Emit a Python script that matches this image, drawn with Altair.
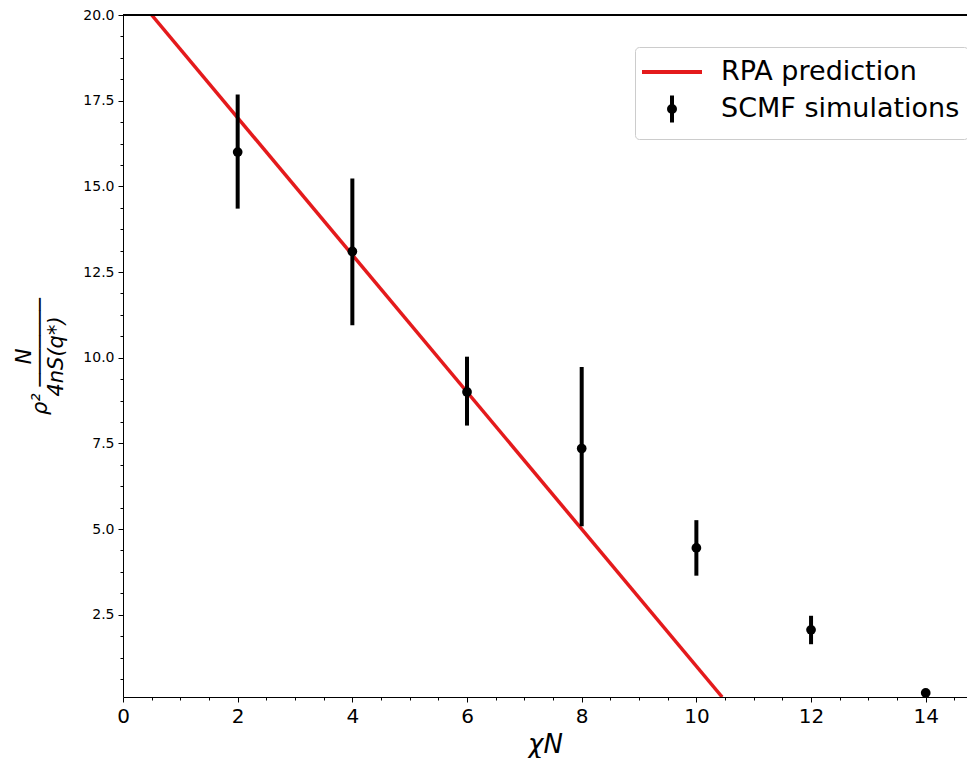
import altair as alt
import pandas as pd

# ---- data ----
chi_n = [2, 4, 6, 8, 10, 12, 14]
scmf_mean = [16.0, 13.1, 9.0, 7.35, 4.45, 2.06, 0.22]
scmf_low = [14.35, 10.95, 8.02, 5.08, 3.64, 1.64, 0.22]
scmf_high = [17.68, 15.23, 10.03, 9.73, 5.26, 2.47, 0.22]

rpa_chi_n = [0.5, 10.45]
rpa_value = [20.0, 0.1]

series_names = ["RPA prediction", "SCMF simulations"]
series_colors = ["#e41a1c", "#000000"]

x_ticks = [0, 2, 4, 6, 8, 10, 12, 14]
y_ticks = [2.5, 5.0, 7.5, 10.0, 12.5, 15.0, 17.5, 20.0]
x_minor = [k * 0.5 for k in range(1, 30) if k % 4]
y_minor = [k * 0.625 for k in range(1, 32) if k % 4]

pts = pd.DataFrame({"chi": chi_n, "mean": scmf_mean, "low": scmf_low, "high": scmf_high})
rpa = pd.DataFrame({"chi": rpa_chi_n, "mean": rpa_value})
leg = pd.DataFrame({"series": series_names,
                    "chi": [rpa_chi_n[0], chi_n[-1]],
                    "mean": [rpa_value[0], scmf_mean[-1]]})

FONT = "DejaVu Sans"
xscale = alt.Scale(domain=[0, 14.72], nice=False, zero=False)
yscale = alt.Scale(domain=[0.1, 20], nice=False, zero=False)

NB = "\u00a0"
x_main = alt.X("chi:Q", scale=xscale, axis=alt.Axis(
    values=x_ticks, format="d", grid=False, labelFont=FONT, labelFontSize=20,
    labelColor="#000", labelPadding=4, labelFlush=False, tickSize=5, tickColor="#000",
    domainColor="#000",
    title="χN", titleFont=FONT, titleFontSize=26, titleFontStyle="italic",
    titleFontWeight="normal", titleColor="#000", titlePadding=5))
y_main = alt.Y("mean:Q", scale=yscale, axis=alt.Axis(
    values=y_ticks, format=".1f", grid=False, labelFont=FONT, labelFontSize=14,
    labelColor="#000", labelPadding=4, tickSize=5, tickColor="#000", domainColor="#000",
    title=[NB * 4 + "N", "ρ² ───────", NB * 4 + "4nS(q*)"],
    titleFont=FONT, titleFontSize=21, titleFontStyle="italic", titleFontWeight="normal",
    titleColor="#000", titleLineHeight=16, titlePadding=16))

x_plain = alt.X("chi:Q", scale=xscale, axis=None)
y_plain = alt.Y("mean:Q", scale=yscale, axis=None)

line = alt.Chart(rpa).mark_line(color="#e41a1c", strokeWidth=3.5, clip=True).encode(x=x_main, y=y_main)

bars = alt.Chart(pts).mark_rule(color="#000", strokeWidth=4).encode(
    x=x_plain, y=alt.Y("low:Q", scale=yscale, axis=None), y2="high:Q")

dots = alt.Chart(pts).mark_circle(color="#000", size=95, opacity=1).encode(x=x_plain, y=y_plain)

rpa_path = "M-2,0L2,0"
scmf_path = "M0,-0.9L0,0.9M0.2,0A0.2,0.2,0,1,1,-0.2,0A0.2,0.2,0,1,1,0.2,0Z"
legend = alt.Legend(title=None, orient="none", legendX=512, legendY=32, padding=8,
                    strokeColor="#cccccc", fillColor="#ffffff", cornerRadius=4,
                    labelFont=FONT, labelFontSize=27, labelColor="#000", labelLimit=500,
                    symbolSize=900, symbolStrokeWidth=4, symbolOpacity=1,
                    symbolOffset=12, labelOffset=32, rowPadding=2)
legend_layer = alt.Chart(leg).mark_point(filled=False, opacity=0).encode(
    x=x_plain, y=y_plain,
    color=alt.Color("series:N", scale=alt.Scale(domain=series_names, range=series_colors), legend=legend),
    shape=alt.Shape("series:N", scale=alt.Scale(domain=series_names, range=[rpa_path, scmf_path]), legend=legend))

minor = alt.Chart(pts).mark_point(opacity=0).encode(
    x=alt.X("chi:Q", scale=xscale, axis=alt.Axis(values=x_minor, labels=False, tickSize=3,
            tickColor="#000", domain=False, grid=False, title=None, orient="bottom")),
    y=alt.Y("mean:Q", scale=yscale, axis=alt.Axis(values=y_minor, labels=False, tickSize=3,
            tickColor="#000", domain=False, grid=False, title=None, orient="left")))

top = alt.Chart(pts).mark_rule(color="#000", strokeWidth=1).encode(y=alt.YDatum(20, scale=yscale, axis=None))

chart = alt.layer(line, bars, dots, legend_layer, minor, top).resolve_axis(
    x="independent", y="independent"
).properties(
    width=844, height=682,
    autosize=alt.AutoSizeParams(type="none"),
    padding={"left": 115, "top": 7, "right": 0, "bottom": 61},
).configure_view(stroke=None).configure(background="white")

chart.save("out.html", embed_options={"renderer": "svg", "actions": False})
